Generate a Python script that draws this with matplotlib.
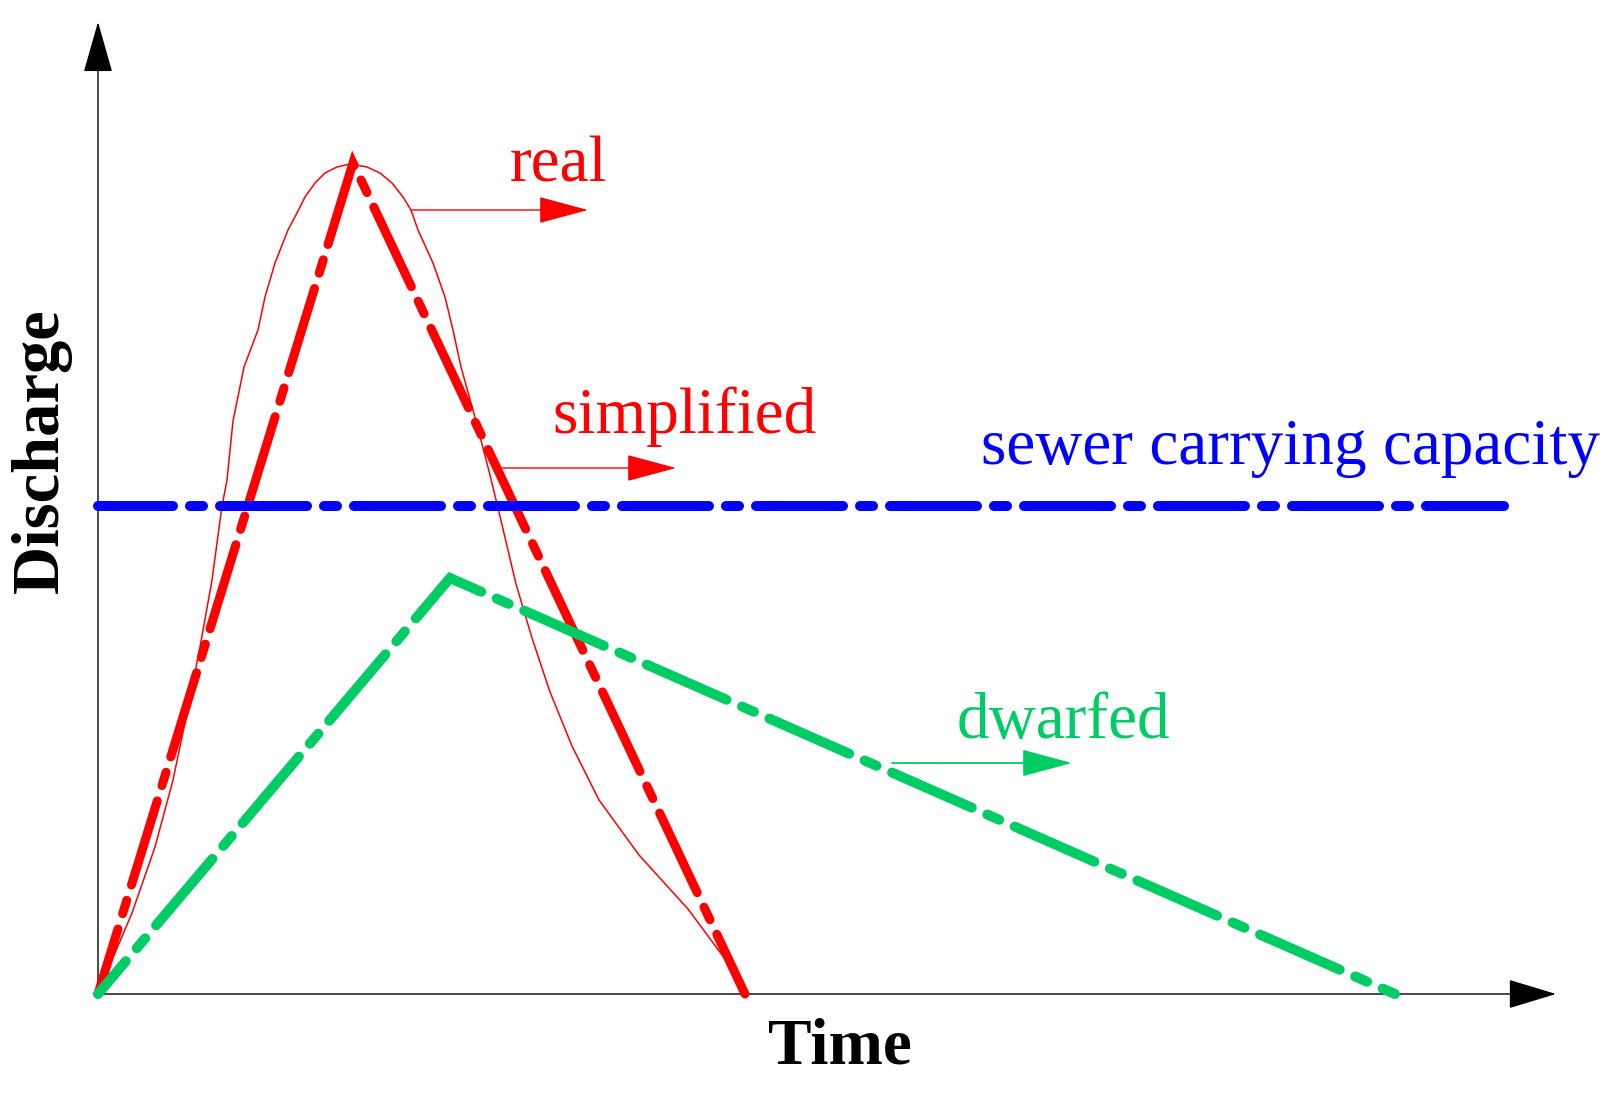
import matplotlib
matplotlib.use("Agg")
import matplotlib.pyplot as plt

plt.rcParams['font.family'] = ['Liberation Serif', 'DejaVu Serif']
plt.rcParams['lines.scale_dashes'] = False

# hydrograph data (arbitrary units: time, discharge)
t_simplified = [0, 25.5, 64.7]
q_simplified = [0, 83.1, 0]

t_dwarfed = [0, 35.2, 129.7]
q_dwarfed = [0, 41.6, 0]

t_capacity = [0, 140.6]
q_capacity = [48.8, 48.8]

t_real = [0, 0.2, 1.7, 3.4, 5.7, 7.5, 8.9, 10.2, 11.4, 12.4, 12.9, 13.5, 14.6,
          16.0, 16.7, 17.7, 19.0, 19.9, 20.7, 21.7, 22.7, 23.9, 25.2, 26.9,
          28.2, 29.4, 30.5, 31.3, 32.0, 33.5, 34.7, 35.5, 36.3, 37.8, 39.2,
          40.5, 41.8, 43.4, 45.2, 47.4, 50.1, 54.1, 59.0, 63.0, 64.6]
q_real = [0, 0.7, 4.1, 8.1, 14.7, 21.4, 28.1, 34.7, 41.4, 48.8, 51.4, 57.3, 62.7,
          66.4, 69.7, 73.1, 76.4, 78.1, 79.7, 81.1, 82.1, 82.7, 83.0, 82.7,
          82.1, 81.1, 79.7, 78.4, 76.4, 73.1, 69.7, 66.4, 62.7, 57.3, 51.9,
          46.5, 41.0, 35.6, 30.2, 24.8, 19.4, 13.9, 8.5, 3.1, 0]

RED = '#FF0000'
BLUE = '#0000FF'
GREEN = '#00CC66'

W, H = 1619, 1094
fig = plt.figure(figsize=(W / 100, H / 100), dpi=100)
ax = fig.add_axes([98 / W, (H - 994) / H, (1556 - 98) / W, (994 - 22) / H])
ax.set_xlim(0, 145.8)
ax.set_ylim(0, 97.2)
ax.axis('off')


def dash(width_px, offset_px):
    # long 97px, short 23px, gaps 7px as seen (round caps included)
    px = 0.72
    on_l, off, on_s = 97 - width_px, 7 + width_px, 23 - width_px
    return (offset_px * px, (on_l * px, off * px, on_s * px, off * px))


# axes with arrow heads
ax.annotate('', xy=(1, 0), xytext=(0, 0), xycoords='axes fraction',
            arrowprops=dict(arrowstyle='-|>,head_length=31,head_width=9.4',
                            mutation_scale=1, color='black', lw=1.0,
                            shrinkA=0, shrinkB=0), zorder=1)
ax.annotate('', xy=(0, 1), xytext=(0, 0), xycoords='axes fraction',
            arrowprops=dict(arrowstyle='-|>,head_length=33,head_width=9.4',
                            mutation_scale=1, color='black', lw=1.0,
                            shrinkA=0, shrinkB=0), zorder=1)

ax.plot(t_real, q_real, color=RED, lw=1.1, clip_on=False, zorder=2,
        solid_joinstyle='round')
ax.plot(t_simplified, q_simplified, color=RED, lw=9 * 0.72, ls=dash(9, 20),
        dash_capstyle='round', dash_joinstyle='miter', clip_on=False, zorder=3)
ax.plot(t_dwarfed, q_dwarfed, color=GREEN, lw=10 * 0.72, ls=dash(10, 44),
        dash_capstyle='round', dash_joinstyle='miter', clip_on=False, zorder=5)
ax.plot(t_capacity, q_capacity, color=BLUE, lw=10 * 0.72, ls=dash(10, 12),
        dash_capstyle='round', clip_on=False, zorder=4)

# labels with pointing arrows
fs = 47
label_arrow = '-|>,head_length=32,head_width=8.6'
ax.annotate('', xy=(49.0, 78.4), xytext=(31.3, 78.4),
            arrowprops=dict(arrowstyle=label_arrow, mutation_scale=1, color=RED,
                            lw=1.0, shrinkA=0, shrinkB=0))
ax.annotate('', xy=(57.8, 52.6), xytext=(40.4, 52.6),
            arrowprops=dict(arrowstyle=label_arrow, mutation_scale=1, color=RED,
                            lw=1.0, shrinkA=0, shrinkB=0))
ax.annotate('', xy=(97.4, 23.1), xytext=(79.4, 23.1),
            arrowprops=dict(arrowstyle=label_arrow, mutation_scale=1, color=GREEN,
                            lw=1.3, shrinkA=0, shrinkB=0))

ax.text(41.2, 81.3, 'real', color=RED, fontsize=fs, ha='left', va='baseline')
ax.text(45.4, 56.1, 'simplified', color=RED, fontsize=fs, ha='left', va='baseline')
ax.text(88.3, 53.0, 'sewer carrying capacity', color=BLUE, fontsize=fs,
        ha='left', va='baseline')
ax.text(85.9, 25.6, 'dwarfed', color=GREEN, fontsize=fs, ha='left', va='baseline')

ax.text(67.0, -7.0, 'Time', fontsize=fs, fontweight='bold', ha='left', va='baseline')
ax.text(-4.0, 54.3, 'Discharge', fontsize=48, fontweight='bold', rotation=90,
        rotation_mode='anchor', ha='center', va='baseline')

fig.savefig('out.png', dpi=100)
